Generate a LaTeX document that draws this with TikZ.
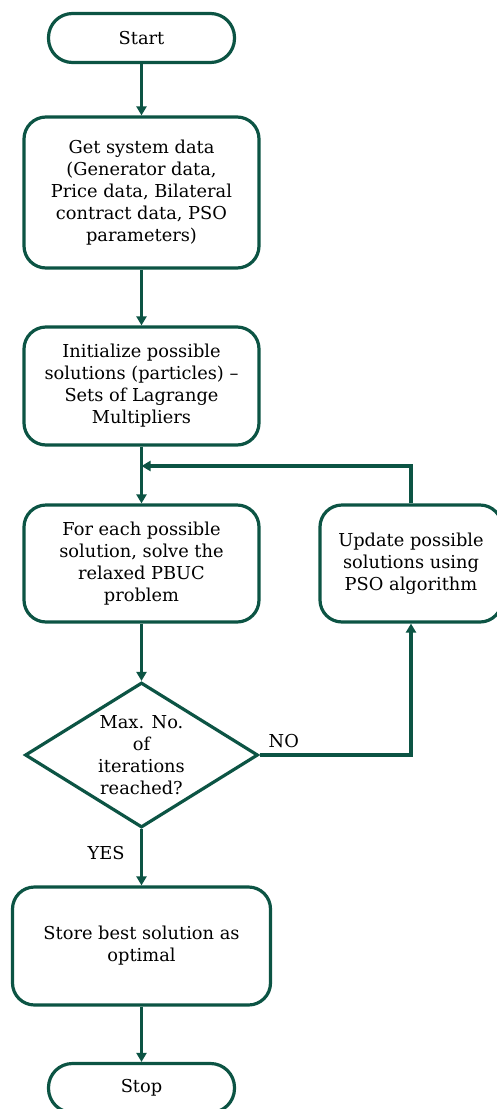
\documentclass[tikz,border=0pt]{standalone}
\usepackage{fontspec}
\setmainfont{DejaVu Serif}
\usetikzlibrary{arrows.meta,shapes.geometric}
\definecolor{flow}{RGB}{12,84,68}
\begin{document}
\begin{tikzpicture}[x=1pt,y=-1pt,
  every node/.style={font=\fontsize{17.8}{22}\selectfont, text=black},
  proc/.style={draw=flow, line width=3.2pt, rounded corners=22pt, fill=white, align=center, inner sep=0pt},
  term/.style={draw=flow, line width=3.2pt, rounded corners=24pt, fill=white, align=center, inner sep=0pt,
               minimum width=186pt, minimum height=49pt},
  link/.style={draw=flow, line width=3.2pt, -{Triangle[length=9pt,width=10pt]}}]
\useasboundingbox (0,0) rectangle (496,1109);

\node[term] (start) at (141.5,38) {Start};
\node[proc, minimum width=235pt, minimum height=151pt] (data) at (141.5,192.5)
  {Get system data\\(Generator data,\\Price data, Bilateral\\contract data, PSO\\parameters)};
\node[proc, minimum width=235pt, minimum height=118pt] (init) at (141.5,386)
  {Initialize possible\\solutions (particles) --\\Sets of Lagrange\\Multipliers};
\node[proc, minimum width=235pt, minimum height=117pt] (solve) at (141.5,563.5)
  {For each possible\\solution, solve the\\relaxed PBUC\\problem};
\node[proc, minimum width=182pt, minimum height=117pt] (upd) at (411,563.5)
  {Update possible\\solutions using\\PSO algorithm};
\node[diamond, draw=flow, line width=3.2pt, minimum width=233pt, minimum height=145pt, inner sep=0pt, fill=white] (dec) at (141.5,755) {};
\node[align=center] (dectext) at (dec.center) {Max. No.\\of\\iterations\\reached?};
\node[proc, minimum width=258pt, minimum height=118pt] (store) at (141.5,946)
  {Store best solution as\\optimal};
\node[term] (stop) at (141.5,1088) {Stop};

\coordinate (merge) at (141.5,466);

\draw[link] (start) -- (data);
\draw[link] (data) -- (init);
\draw[link] (init) -- (solve);
\draw[link] (solve) -- (dec);
\draw[link] (dec) -- node[left=12pt, pos=0.42] (yes) {YES} (store);
\draw[link] (store) -- (stop);
\draw[link] (dec.east) -- node[above=2pt, pos=0.16] (no) {NO} (dec.east -| upd.south) -- (upd.south);
\draw[link] (upd.north) |- (merge);
\end{tikzpicture}
\end{document}
